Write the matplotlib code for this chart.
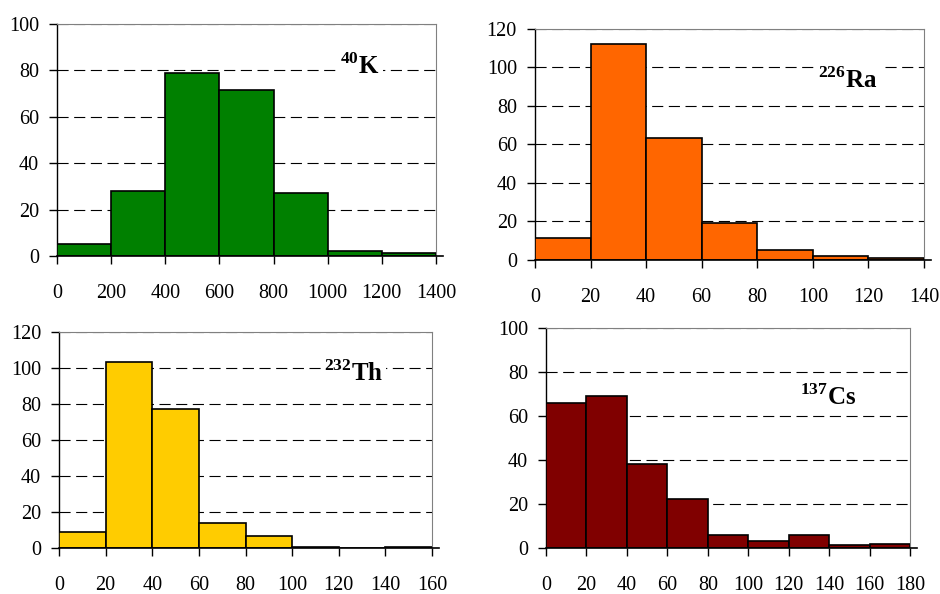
import matplotlib
matplotlib.use("Agg")
import matplotlib.pyplot as plt
import numpy as np

plt.rcParams['font.family'] = ['Liberation Serif', 'DejaVu Serif']
plt.rcParams['mathtext.fontset'] = 'custom'
plt.rcParams['mathtext.rm'] = 'Liberation Serif:bold'
plt.rcParams['mathtext.bf'] = 'Liberation Serif:bold'

# Data
k_edges = [0, 200, 400, 600, 800, 1000, 1200, 1400]
k_counts = [5, 28, 79, 71.4, 27, 2, 1.4]
ra_edges = [0, 20, 40, 60, 80, 100, 120, 140]
ra_counts = [11.6, 112, 63.5, 19, 5, 2.2, 0.9]
th_edges = [0, 20, 40, 60, 80, 100, 120, 140, 160]
th_counts = [9, 103.5, 77, 14, 6.7, 0.7, 0, 0.7]
cs_edges = [0, 20, 40, 60, 80, 100, 120, 140, 160, 180]
cs_counts = [65.8, 69, 38.2, 22.1, 5.8, 3.2, 5.8, 1.4, 1.8]

panels = [
    dict(edges=k_edges, counts=k_counts, color='#008000', ymax=100,
         label=r'$^{40}\mathrm{K}$', pos=[0.0606, 0.569, 0.4032, 0.3906], lab=(0.80, 0.82)),
    dict(edges=ra_edges, counts=ra_counts, color='#FF6600', ymax=120,
         label=r'$^{226}\mathrm{Ra}$', pos=[0.5691, 0.5623, 0.4138, 0.3889], lab=(0.805, 0.78)),
    dict(edges=th_edges, counts=th_counts, color='#FFCC00', ymax=120,
         label=r'$^{232}\mathrm{Th}$', pos=[0.0628, 0.0774, 0.3968, 0.3636], lab=(0.79, 0.81)),
    dict(edges=cs_edges, counts=cs_counts, color='#800000', ymax=100,
         label=r'$^{137}\mathrm{Cs}$', pos=[0.5809, 0.0774, 0.3872, 0.3704], lab=(0.775, 0.686)),
]

fig = plt.figure(figsize=(9.4, 5.94), dpi=100)

for p in panels:
    ax = fig.add_axes(p['pos'])
    edges = np.array(p['edges'])
    counts = np.array(p['counts'])
    ax.bar(edges[:-1], counts, width=np.diff(edges), align='edge',
           color=p['color'], edgecolor='black', linewidth=1.2, zorder=3)
    ax.set_xlim(edges[0], edges[-1])
    ax.set_ylim(0, p['ymax'])
    yt = np.arange(0, p['ymax'] + 1, 20)
    ax.set_yticks(yt)
    ax.set_xticks(edges)
    for y in yt[1:]:
        ax.axhline(y, color='black', linestyle=(0, (10, 5)), linewidth=0.8, zorder=2)
    for s in ['top', 'right']:
        ax.spines[s].set_color('#808080')
        ax.spines[s].set_linewidth(0.8)
    ax.spines['left'].set_color('black')
    ax.spines['left'].set_linewidth(1.0)
    ax.spines['bottom'].set_visible(False)
    ax.axhline(0, xmin=0, xmax=1.018, color='black', linewidth=1.2, clip_on=False, zorder=4)
    ax.tick_params(axis='x', direction='out', length=6, width=1, pad=14, labelsize=14.5)
    ax.tick_params(axis='y', direction='out', length=6, width=1, pad=7, labelsize=14.5)
    ax.text(p['lab'][0], p['lab'][1], p['label'], transform=ax.transAxes,
            fontsize=18, ha='center', va='center', zorder=5,
            bbox=dict(facecolor='white', edgecolor='none', pad=2))

fig.savefig('out.png', dpi=100)
